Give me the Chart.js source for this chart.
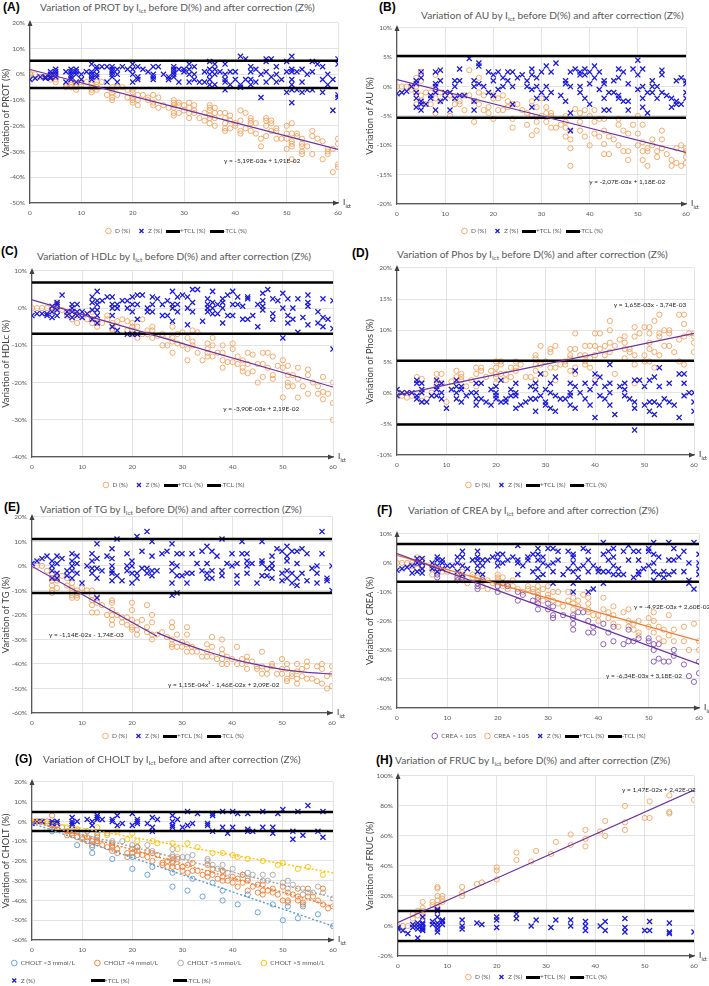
<!DOCTYPE html>
<html>
<head>
<meta charset="utf-8">
<script src="https://cdn.jsdelivr.net/npm/chart.js@4.4.1/dist/chart.umd.min.js"></script>
<style>
  body { margin: 0; width: 709px; height: 986px; background: #fff; position: relative; overflow: hidden; font-family: Lato, sans-serif; }
  .tag { position: absolute; font: bold 12px "Liberation Sans", Arial, sans-serif; color: #000; line-height: 14px; transform: translateY(-50%); white-space: nowrap; }
  .ttl { position: absolute; font-size: 10.2px; color: #595959; line-height: 14px; transform: translateY(-50%); white-space: nowrap; }
  .ttl sub { font-size: 6.5px; vertical-align: -2px; line-height: 0; }
  canvas { position: absolute; }
</style>
</head>
<body>
<script>
// Each row: Ict value, then the variations (%) read at that Ict

// (A) PROT
const protD = [[0,0,0.5],[1,0],[2,-1],[3,-1],[4,-1,-2],[5,-1,-2,-3],[7,-4,-5],[8,-3,-4,-5],[9,-4,-5,-6],[10,-3,-4],[11,-3],[12,-4,-5,-6,-7],[13,-3,-4,-5,-6],[14,-3],[15,-8],[16,-5,-6,-7,-9,-10],[17,-5,-8],[18,-5],[19,-6,-9],[20,-6,-7,-9,-10,-11],[21,-8,-10,-12],[22,-8],[23,-9,-10],[24,-8,-11,-12],[25,-9,-13],[26,-12],[27,-13],[28,-10,-11,-12,-13,-15,-16],[29,-11,-12,-15],[30,-12,-14],[31,-11,-13,-15,-17],[32,-12,-14,-15],[33,-17],[34,-15,-18],[35,-12,-13,-14,-16,-17,-19],[36,-13,-15,-17,-20],[37,-15],[38,-15,-17,-19,-21,-22],[39,-16,-18,-21],[40,-19,-20],[41,-14,-18,-22,-23],[42,-15,-21],[43,-17,-18,-19,-22],[44,-19,-23],[45,-25,-28],[46,-17,-18,-20,-24],[47,-18,-19,-22],[48,-21,-22,-25],[49,-25],[50,-20,-23,-25,-29],[51,-19,-23,-26,-27,-28,-33],[52,-23,-24],[53,-25,-27,-28,-30,-31],[54,-28],[55,-22,-24,-31],[56,-25],[57,-26,-33],[58,-29,-30,-31],[59,-29,-38],[60,-25,-27,-35,-36]];
const protZ = [[0,-2],[1,-1.5],[2,-1],[3,-1,-1.5],[4,-1.5,-1,0,1],[5,-1,0,1,2],[7,-3,1],[8,-2,-1,0,1,2],[9,-3,0,1,2],[10,-2,0],[11,1],[12,-2,-1,0,1,4],[13,-1,0,2,3],[14,3],[15,-3,3],[16,-1,0,1,2,3],[17,-3,0,2],[18,3],[19,2],[20,-3,0,2,4],[21,-2,-1,3],[22,2],[23,1],[24,-2,-1,0,3],[25,3],[26,0],[27,-2,-1],[28,-1,0,1,2,3],[29,-3,2],[30,1,2],[31,-3,0,2,4],[32,-2,0,3],[33,-3],[34,-3,1],[35,-4,-2,0,2,5],[36,-4,0,2,4],[37,1],[38,-6,-3,-2,0,4],[39,-4,1],[40,-2,1],[41,-5,-4,7],[42,-2,6],[43,-4,-2,1,3],[44,-3,2],[45,-9,0],[46,-3,1,5,6],[47,-1,6],[48,-3,0,3],[49,-2],[50,-7,1,5],[51,-11,-6,-4,-2,1,2,7],[52,-6,1],[53,-7,-3,2],[54,-6,0],[55,-6,1,5],[56,4],[57,-7,-2,3],[58,-4,0],[59,-14,-2],[60,-9,-8,4,6]];
const protTcl = [5.3, -5.3];
const protTrend = [[0,1.9],[60,-29.2]];

// (B) AU
const auD = [[0,0],[1,0],[2,0],[3,0,-0.5],[4,1.5,0,-1,-3],[5,2.5,1,-1.5,-2.5],[6,-3,-1],[7,-1,-3],[8,2,-0.5,-2,-4.5],[9,-2.5,-1],[10,-1.5],[11,-5,-1.5],[12,-3,-2],[13,-2.5,-3],[14,-1.5,-4],[15,2.8,-1.5],[16,-6,-2.5],[17,1.5,-1,-3],[18,-1.5,-4],[19,-3.5,-4.5],[20,-5.5,-2,-1.5],[21,-2,-4],[22,-1.5,-4],[23,-2.5,-3.5],[24,-3,-5.5,-7],[25,-3],[26,-4],[27,-4.5,-6.5],[28,-2.5,-5,-8.3],[29,-3.5,-6,-7.5],[30,-2,-5],[31,-3.5,-4.5,-6],[32,-4.5,-5,-7],[33,-7],[34,-6.5],[35,-5,-6,-7,-8.5],[36,-7.5,-9,-10.5,-13.5],[37,-3.8],[38,-4.5,-6,-7.5],[39,-4,-8.5],[40,-5,-10],[41,-4,-6,-8],[42,-5.5,-8.5],[43,-5.5,-7.5,-9.8,-11.5],[44,-8.5,-11.5],[45,-9],[46,-5.5,-6.5,-10],[47,-7.5,-11],[48,-8,-11,-12.5],[49,-6.5],[50,-5,-8,-10],[51,-6.5,-9.5,-11,-12.5],[52,-10.5,-11,-13.5],[53,-9,-10],[54,-11,-12],[55,-7.5,-9,-10.5],[56,-11.5],[57,-12.5,-13.5],[58,-10.5,-13],[59,-10,-13.5],[60,-10.5,-11,-12,-13]];
const auZ = [[0,-1.2],[1,-1],[2,-0.8],[3,0],[4,-3.5,-2,-1,0.5,1],[5,-4,-3,-2.5,1.5,2.5],[6,-3],[7,-2,-1.5],[8,-4,-1,0,0.5,2.5],[9,-2.5,1,2.8],[10,-2,-1],[11,-4,-1],[12,-2,0,1],[13,-1.5,1,3],[14,-1.5],[15,4.8],[16,-4,-2.5,0,1],[17,0.5,3.5,4],[18,0],[19,-1,2.5],[20,-1.5,1,2],[21,-0.5,2.5],[22,0,1.5],[23,1,2.5],[24,-3,0,2.5],[25,1.5],[26,2],[27,0,1],[28,-3.5,-0.5,2,3],[29,-2,0,1.5],[30,-1,2.5],[31,-2,0,3.5],[32,-1,2.5],[33,4],[34,-1.5],[35,-2.5,0.5,1],[36,-7.5,-4.5,0,2.5],[37,3],[38,-1,0,2,2.5],[39,-2,2,3],[40,-3,0.5,2.5],[41,1.5,3.5],[42,-0.5,2.5],[43,-4,-2,0.5,1],[44,-4,-1],[45,-1,1],[46,-2,-1.5,1.5,3],[47,-2.5,2.5],[48,-4,-2.5,0.5],[49,3],[50,-0.5,2,4.5],[51,-3.5,-2,0,3],[52,-4.5,-1],[53,-1,0,1],[54,-2,0],[55,-1,2,2.8],[56,-1.5],[57,-3.5,-2],[58,-3,-2.5,1],[59,-3,1.5],[60,-2,-1,0.5,1]];
const auTcl = [5.2, -5.3];
const auTrend = [[0,1.2],[60,-11.2]];

// (C) HDLc
const hdlD = [[0,0],[1,0],[2,0],[3,0],[4,-1,-0.5],[5,0,0.5,1.5],[6,-0.5],[7,-1,-2],[8,-1.5,-3],[9,-2,-4],[10,-2],[11,-3],[12,-1,-3,-4],[13,-3,-4,-5],[14,-4],[15,-2,-3],[16,-4,-5.5,-6],[17,-3.5,-5],[18,-3],[19,-3.5,-6],[20,-4,-5,-6,-7],[21,-5,-8],[22,-3,-7],[23,-6,-7],[24,-5,-6,-8],[25,-7.5],[26,-7,-10],[27,-7.5,-10],[28,-5,-8,-9,-12],[29,-7,-9.5],[30,-6.5,-10],[31,-8,-11,-14],[32,-6,-9,-10],[33,-6.5,-12],[34,-14],[35,-9.5,-11,-12,-13],[36,-8,-10,-13],[37,-12],[38,-10,-12,-14,-16],[39,-14.5],[40,-9.5,-11,-14.5],[41,-13,-15],[42,-14,-16,-17],[43,-12,-15,-17.5],[44,-12.5,-17],[45,-15,-20],[46,-12,-15,-18.5],[47,-12,-16],[48,-13,-18,-19],[49,-15.5],[50,-14,-16,-24],[51,-15.5,-18,-20,-21],[52,-18,-21],[53,-16,-19,-24],[54,-21],[55,-16.5,-18,-23],[56,-20],[57,-21,-23],[58,-18.5,-22.5,-24.5],[59,-23],[60,-20,-25.5,-30]];
const hdlZ = [[0,-2],[1,-1.5],[2,-1.5],[3,-2,-1.5],[4,-2.5,-1,0.5],[5,-2,-0.5,1,1.5],[6,3.5],[7,-2,-1],[8,-2.5,-1,0,1],[9,-2,-1,1],[10,-2.5,-1],[11,-1.5],[12,-3,-0.5,1.5,3],[13,-4,-2,-0.5,1,2,4.5],[14,2],[15,3],[16,-5,-2,0,1,3],[17,-6,0,1],[18,2],[19,-7,0,2],[20,-7,-1,1,3],[21,-7,-3,1,3.5],[22,3.5],[23,-1,0],[24,-1,1,3],[25,2.5],[26,-2,1],[27,-2,2],[28,-3.5,0,1,4.5],[29,-1,1,3],[30,3.5],[31,-4.5,0,3],[32,-1,1.5,5],[33,5],[34,-3.5],[35,-1,0,1,2.5],[36,-1.5,0,1.5,4.5],[37,-1.5,1],[38,-4,0,1.5,2.5],[39,-2,3.5],[40,-2,1,4.5],[41,1,3],[42,-3,0.5],[43,-3,2.5,3],[44,-2],[45,-5,1],[46,-0.5,0.5,2,4],[47,5],[48,-3,-1.5,2.5],[49,2],[50,-8,0,4],[51,-4,-2,2.5],[52,-3,0],[53,-6.5,2.5],[54,-2.5],[55,-4.5,0.5,1.5,3.5],[57,-4,-1],[58,-5,-2.5,2.5],[59,-3],[60,-11,-5.5,2]];
const hdlTcl = [6.9, -6.9];
const hdlTrend = [[0,2.2],[60,-21.2]];

// (D) Phos
const phosD = [[0,0],[1,-0.5],[2,-0.8],[3,-0.5],[4,2.5],[5,-1.3,2.2],[6,-1],[7,0],[8,1,2,3],[9,1.5,3],[10,-1.5],[11,1.8],[12,2.5,3.5],[13,2,2.5,3],[14,1],[15,2],[16,1,3,4],[17,3.5,4],[18,2.5],[19,3.5],[20,1.5,2.5,3,4,5],[21,3,4.5,5],[22,2,3],[23,2.5,4],[24,3.5,4,5],[25,4.5],[26,2.5],[27,2.5],[28,2,3.5,4.5,5.5,6],[29,4.5,7.5],[30,3,5],[31,4,6.5,7],[32,2,4,7.5],[33,4.5],[34,4.5,5],[35,3.5,5.5,6,7],[36,3,4,7,9.5],[37,6],[38,4.5,5,6,7.5],[39,4,5.5,7.5],[40,2,6,7.5,9.5],[41,7,9.5],[42,6,7.5],[43,6.5,8,10,11.5],[44,3,7.5],[45,8.5],[46,5.5,7,8,9],[47,6.5,7],[48,1.5,4.5,6,9,10.5],[49,9.5],[50,5,6,10.5],[51,5,7,8,9.5,10.5],[52,4,6.5,11.5],[53,6,9,9.5,12.5],[54,7.5,10],[55,7.5,9.5,10],[56,6.5],[57,5,8.5,12.5],[58,4.5,9,11,12.5],[59,9.5],[60,6.5,8,9,9.5]];
const phosZ = [[0,-0.5,0.5],[1,0],[2,0],[3,0],[4,-1,-0.5,1.5,2],[5,-1.5,0,0.5,1.5],[6,-1.5],[7,-0.5],[8,-0.5,0.5,1,2],[9,-1,0,1.5],[10,-2.5],[11,0.5],[12,-1,0,1,2],[13,-1.5,0.5,1],[14,-0.5],[15,0],[16,-2,-1,0,1.5],[17,-1,1.5],[18,-1.5],[19,-2,0.5],[20,-1,-0.5,0,1],[21,-1.5,2],[22,-1.5,-1],[23,-0.5,0.5],[24,-2.5,-0.5,0,1.5],[25,-2],[26,-1.5],[27,-1,1],[28,-3,-1,0.5,1.5],[29,-0.5,3],[30,-2,-1.5,0.5],[31,-2.5,0,1.5],[32,-3,-0.5,2.5],[33,-1],[34,-1],[35,-2,-0.5,0,1.5],[36,-2.5,1,3.5],[37,0],[38,-1,1.5],[39,-2,0.5],[40,-4,1.5,3],[41,-0.5,2.5],[42,-1,1],[43,-2,0,1.5,4.5],[44,-3.5],[45,1],[46,-0.5,0.5,1.5],[47,-1],[48,-6,-2.5,-1.5,2],[49,2],[50,-2,1],[51,-3,-1.5,2],[52,-3.5,-1.5,2.5],[53,-2,1,4],[54,-1],[55,-1.5,1.5],[56,-2],[57,-4,3],[58,-0.5,1.5,3],[59,0],[60,-3,-1.5,0]];
const phosTcl = [5.1, -5.1];
const phosTrend = [[0,-0.4],[60,9.5]];

// (E) TG
const tgD = [[0,0],[1,0],[2,0],[3,-2],[4,-3,-5,-6,-8,-10,-11],[5,-4,-5,-6,-9],[6,-4],[7,-5,-8],[8,-7,-9,-10,-12,-13],[9,-10,-11,-12,-13],[10,-9],[11,-10],[12,-10,-12,-14,-16,-19],[13,-12,-15,-19],[14,-16],[15,-20],[16,-14,-15,-18,-20,-22,-24],[17,-20],[18,-21,-23],[19,-21,-24],[20,-15,-18,-22,-25,-26],[21,-23,-26,-28],[22,-22],[23,-16,-25,-27],[24,-20,-23,-28,-30],[25,-28],[26,-27],[27,-29],[28,-23,-25,-30,-32,-33],[29,-28,-33],[30,-31,-33],[31,-25,-28,-32,-35],[32,-33,-35],[33,-35],[34,-37],[35,-32,-35,-37],[36,-29,-33,-37],[37,-38],[38,-30,-34,-36,-38,-40],[39,-37,-40],[40,-38],[41,-33,-40],[42,-38,-40],[43,-37,-39,-42],[44,-39],[45,-41,-42],[46,-35,-41,-44],[47,-42,-44],[48,-40,-41],[49,-44],[50,-38,-42,-44],[51,-40,-42,-46,-47],[52,-44,-45],[53,-40,-43,-46,-48],[54,-42,-45],[55,-39,-41,-46],[56,-46],[57,-41,-47],[58,-40,-42,-48],[59,-45,-50],[60,-41,-44,-49]];
const tgZ = [[0,1],[1,2],[2,3],[3,4],[4,-5,-2,0,2],[5,-5,-3,1,4],[6,3],[7,-4,-2],[8,-5,-2,0,2,5],[9,-3,1,4],[10,-7],[11,0],[12,-3,-1,2,5],[13,-13,-5,-1,3,9],[14,-2],[15,4],[16,-6,-3,-2,0,3,7],[17,-4,11],[18,-6],[19,-2,0,5],[20,-7,-3,0,2],[21,-5,-3,12],[22,-1,6],[23,-3,-1,14],[24,-4,-2,4,10],[25,-2],[26,5],[27,6],[28,-12,-7,-2,1,9],[29,-11,-4,0,5],[30,-4,5],[31,-7,-3],[32,-3,5],[33,1],[34,-2,6],[35,-5,-3,1,8],[36,-5,-2,6],[37,4],[38,-4,-2,11],[39,1],[40,0,5],[41,-7,-4,1],[42,5,10],[43,-3,0,2,5],[44,1],[45,-7],[46,-4,1,2,10],[47,-4,-1],[48,-5,-1,1,4],[49,7],[50,-6,-3,6],[51,-5,-2,2,4,8],[52,-7,-3,6],[53,-8,-5,1,6],[54,-3,7],[55,-6,5],[56,-1],[57,-7,-3,0],[58,5,14],[59,-6,-5],[60,-10,0]];
const tgTcl = [11, -11];
const tgTrendLin = [[0,-0.2],[25,-28.7]];
const tgTrendPoly = [[25,-27.2],[30,-31.4],[35,-34.9],[40,-37.9],[45,-40.3],[50,-42.2],[55,-43.4],[60,-44.1]];

// (F) CREA
const creaLow = [[4,0],[5,-1],[8,-4,-5],[12,-5,-6],[13,-5],[16,-7,-8,-9],[17,-6],[20,-8,-10],[21,-7],[22,-8],[24,-10,-13],[25,-11],[27,-13],[28,-12,-14,-16],[30,-14,-16],[31,-15,-18,-19],[33,-18],[35,-18,-19,-21,-23],[36,-17],[37,-17],[38,-20,-24],[39,-22,-24],[41,-21,-28],[42,-24],[43,-22,-27],[45,-28],[46,-23,-27],[47,-27],[48,-26],[50,-26,-27],[51,-28,-30,-34],[52,-28,-33],[53,-34],[54,-34],[55,-30,-32],[57,-35],[58,-39],[59,-41],[60,-34,-38]];
const creaHigh = [[0,0],[1,0],[2,0],[3,-1,0],[4,-2,0,2],[5,-1,1],[7,-4,-2],[8,-3,-2],[9,-3],[10,-3],[12,-6,-4],[13,-6,-4,-3],[14,-7],[15,-5,-4],[16,-6,-5],[17,-8,-6],[18,-9,-6],[19,-7],[20,-8,-6,-5,-4],[21,-8,-7,-5],[22,-9,-7],[23,-8,-6],[24,-9],[25,-10],[26,-9,-8],[27,-10,-9],[28,-13,-11,-10,-8],[29,-13,-9],[30,-12,-11,-8],[31,-13,-10],[32,-14,-10],[33,-15],[34,-13,-10],[35,-16,-14,-12],[36,-15,-13],[37,-11],[38,-17,-16,-14,-12],[39,-18],[40,-20,-18],[41,-16,-12],[42,-19,-17],[43,-21,-18,-15],[44,-22],[45,-17],[46,-22,-20,-16],[47,-23,-21],[48,-25,-24,-20],[50,-22,-19],[51,-24,-20,-17],[52,-26,-22],[53,-27,-23],[54,-25,-18],[55,-27,-23],[57,-27,-22],[58,-30],[59,-21],[60,-30,-27]];
const creaZ = [[0,-2.5],[1,-2],[2,-1.5],[3,-3.5,-1],[4,-3,0,1.5],[5,-3.5,-2,0,1.5],[7,-2,0],[8,-3,-1,1,2],[9,-2,0,1],[10,-1],[11,-1],[12,-3,0,2],[13,-4,-1,2,4],[14,-2],[15,1],[16,-3,-1,1,2,4],[17,-4,-1,1],[18,1],[19,2],[20,-1,1,3],[21,0,3],[22,1],[23,2],[24,-4,0,1,6],[25,-1],[26,1,2],[27,-3,3],[28,-5,-2,1,3,5],[29,-4,0,2],[30,-1,5],[31,-7,-3,0,5],[32,1,4],[33,-4],[34,-2,4],[35,-10,-7,-3,0,2,3],[36,-5,-2],[37,-1,5],[38,-10,-3,1,4],[39,-9,-1],[40,-3,-2],[41,-7,-3,3,7],[42,-3,1,4],[43,-4,-1,2,5],[44,-4,-2],[45,-4,4],[46,1,6],[47,-5,4],[48,-4,-3,1,4],[49,-2],[50,-1,4,5],[51,-6,-3,0,3,7],[52,-4,2],[53,-5,-3],[54,-4,1,7],[55,-3,1,5],[56,2],[57,-3,4],[58,-7,-6,0],[59,-9,7],[60,-4,-2,0,3]];
const creaTcl = [6.5, -6.5];
const creaLowTrend = [[0,3.2],[60,-34.9]];
const creaHighTrend = [[0,2.6],[60,-26.9]];

// (G) CHOLT
const cholt3 = [[4,-5],[9,-12],[12,-13,-16],[16,-19],[20,-18,-24],[23,-27],[24,-23],[28,-26,-33],[31,-35],[32,-29],[34,-38],[36,-31],[38,-35,-40],[41,-42],[43,-37],[45,-46],[48,-42],[50,-50],[51,-43],[53,-49],[54,-43],[57,-47],[60,-53]];
const cholt4 = [[0,0,-1],[1,0],[2,0],[3,0],[4,3,-2,-4],[5,-2,-4],[7,-5,-7],[8,-6,-7],[9,-5,-8],[10,-9],[11,-8,-10],[12,-10,-12],[13,-8,-10,-11],[14,-12],[15,-13],[16,-11,-13,-15],[17,-14,-16],[19,-16,-18],[20,-14,-16],[21,-13,-17],[22,-17],[23,-15,-18],[24,-16,-20],[25,-17],[26,-21,-22],[27,-20,-23],[28,-18,-21,-23],[29,-19,-23],[30,-23,-25],[31,-22,-26],[32,-21,-25],[33,-25],[34,-27],[35,-22,-26,-28],[36,-24,-27],[37,-29],[38,-25,-28,-30],[39,-30],[40,-28,-31],[41,-29,-33],[42,-27,-31],[43,-30,-35],[44,-33],[45,-32,-36],[46,-32,-35,-37],[47,-35],[48,-34,-36],[49,-37],[50,-33,-40],[51,-36,-40,-41],[52,-37],[53,-34,-38,-40],[54,-41,-42],[55,-34,-38],[56,-38],[57,-40],[58,-34,-42],[59,-44],[60,-43]];
const cholt5 = [[2,0],[4,-1],[6,-3],[8,-5],[10,-8],[11,-5],[12,-9],[13,-7,-10],[15,-6],[16,-10,-12],[18,-10],[20,-12],[21,-13,-15],[23,-12],[24,-15],[28,-14,-17,-20],[29,-18],[30,-18],[31,-18],[32,-17],[35,-19,-20],[36,-22],[37,-24],[38,-22,-25],[39,-26],[40,-24],[42,-27],[43,-26,-29],[44,-27],[46,-27,-30],[47,-30],[48,-27],[50,-31],[51,-30,-34],[52,-32],[54,-34,-37],[55,-36],[56,-36],[57,-33],[58,-36],[60,-39]];
const cholt6 = [[0,0],[1,0],[3,-1],[5,-2],[7,-3],[9,-4],[11,-5],[13,-3,-6],[15,-7],[17,-5],[19,-9],[20,-6],[21,-10],[24,-10],[25,-11],[28,-11],[29,-14],[31,-11],[33,-13],[36,-16],[38,-16],[40,-17],[41,-18],[43,-19],[46,-20],[49,-22],[50,-21],[53,-24],[55,-23],[58,-27]];
const cholZ = [[0,-1],[1,0],[2,0],[4,0,-1],[5,0,-1],[8,-2,-1,0,2],[9,0],[11,1],[12,-2,0],[13,1,2,3],[14,1],[16,0,1],[17,-2,3],[18,-1],[20,-2,4],[21,-1,0,1],[23,-1],[24,-5,-3,2],[25,1],[28,-3,-2,0,3],[29,1],[30,-3],[31,-2,5],[32,-1],[33,4],[35,-2,-1],[36,-5,3,4],[38,-3,5],[39,-6],[40,-3,5],[41,4],[43,-5,-4,4],[44,-5],[46,-3,5],[48,-6,-3],[49,4],[50,6],[52,-9,-5],[53,5],[54,-7],[55,8],[57,-5],[58,-8,5]];
const cholTcl = [4.8, -4.8];
const cholt3Trend = [[0,-1],[60,-53]];
const cholt4Trend = [[0,0],[60,-43]];
const cholt5Trend = [[0,0],[60,-38.5]];
const cholt6Trend = [[0,1],[60,-26]];

// (H) FRUC
const frucD = [[0,0],[1,0],[2,0],[3,5,8],[4,7,10],[5,6,8,10,12,16],[7,14,16],[8,12,14,17,20,25,26],[9,16,18,20],[13,20,22,26],[16,28],[17,29],[20,31,37,39],[24,44,49],[27,43],[28,50],[31,48],[32,56],[35,54,61],[38,53,58,64],[41,63],[42,60,70],[46,64,69,80],[50,72],[51,72,83],[55,75,76,87],[60,84]];
const frucZ = [[0,-2,-1],[1,-3],[2,-5],[3,-1,1],[4,-8,-2,0,2],[5,-3,-2,-1,1,2,6],[7,1,3],[8,-4,-2,0,2,6,10,11],[9,1,3,4],[13,-2,0,4],[16,2],[17,1],[20,-1,4,6],[24,5,8],[27,0],[28,4],[31,-1],[32,4],[35,0,4],[38,-3,0,3],[41,0],[42,-3,3],[46,-4,-1,5],[50,-3],[51,-3,3],[55,-5,-4,2],[60,-4]];
const frucTcl = [10, -10];
const frucTrend = [[0,2.4],[60,90.6]];

const ORANGE = '#F2A35E';
const BLUE = '#1a1ad8';
const PURPLE = '#7030A0';

const expand = rows => rows.flatMap(([x, ...ys]) => ys.map(y => ({ x, y })));
const pairs = arr => arr.map(([x, y]) => ({ x, y }));

// legend icon for the thick TCL lines
const lineIcon = document.createElement('canvas');
lineIcon.width = 14; lineIcon.height = 3;
lineIcon.getContext('2d').fillRect(0, 0, 14, 3);

function circles(label, rows, color) {
  return { label, data: expand(rows), showLine: false, pointStyle: 'circle', pointRadius: 2.6,
    borderWidth: 0.9, borderColor: color, backgroundColor: 'transparent', order: 3 };
}
function crosses(label, rows) {
  return { label, data: expand(rows), showLine: false, pointStyle: 'crossRot', pointRadius: 3.6,
    borderWidth: 1.3, borderColor: BLUE, backgroundColor: BLUE, order: 2 };
}
function tclLine(label, v) {
  return { label, data: [{ x: 0, y: v }, { x: 60, y: v }], showLine: true, borderColor: '#000',
    backgroundColor: '#000', borderWidth: 2.5, pointRadius: 0, pointStyle: lineIcon, order: 1 };
}
function trendLine(arr, color, dash) {
  return { label: 'trend', noLegend: true, data: pairs(arr), showLine: true, borderColor: color,
    borderWidth: dash ? 1.4 : 1.2, borderDash: dash || [], pointRadius: 0, order: 0,
    cubicInterpolationMode: 'monotone' };
}
function stdSets(d, z, tcl) {
  return [circles('D (%)', d, ORANGE), crosses('Z (%)', z),
    tclLine('+TCL (%)', tcl[0]), tclLine('-TCL (%)', tcl[1])];
}

const sub = 'I<sub>ict</sub>';
const panels = [
  { tag: '(A)', tagPos: [3, 7], title: `Variation of PROT by ${sub} before D(%) and after correction (Z%)`, titlePos: [40, 7],
    plot: [30, 22, 338, 203], yW: 30, legendY: 231, ytitle: 'Variation of PROT (%)', ymin: -50, ymax: 20, ystep: 10,
    datasets: [...stdSets(protD, protZ, protTcl), trendLine(protTrend, PURPLE)],
    eq: [{ text: 'y = -5,19E-03x + 1,91E-02', x: 37.8, y: -33.7 }] },
  { tag: '(B)', tagPos: [379, 7], title: `Variation of AU by ${sub} before D(%) and after correction (Z%)`, titlePos: [421, 15],
    plot: [397, 27, 686, 204], yW: 33, legendY: 231, ytitle: 'Variation of AU (%)', ymin: -20, ymax: 10, ystep: 5,
    datasets: [...stdSets(auD, auZ, auTcl), trendLine(auTrend, PURPLE)],
    eq: [{ text: 'y = -2,07E-03x + 1,18E-02', x: 39.9, y: -16.3 }] },
  { tag: '(C)', tagPos: [1, 251], title: `Variation of HDLc by ${sub} before D(%) and after correction (Z%)`, titlePos: [37, 256],
    plot: [32, 270, 333, 457], yW: 32, legendY: 485, ytitle: 'Variation of HDLc (%)', ymin: -40, ymax: 10, ystep: 10,
    datasets: [...stdSets(hdlD, hdlZ, hdlTcl), trendLine(hdlTrend, PURPLE)],
    eq: [{ text: 'y = -3,90E-03x + 2,19E-02', x: 38.1, y: -27.2 }] },
  { tag: '(D)', tagPos: [352, 253], title: `Variation of Phos by ${sub} before D(%) and after correction (Z%)`, titlePos: [397, 254],
    plot: [397, 267, 694, 455], yW: 33, legendY: 485, ytitle: 'Variation of Phos (%)', ymin: -10, ymax: 20, ystep: 5,
    datasets: [...stdSets(phosD, phosZ, phosTcl), trendLine(phosTrend, PURPLE)],
    eq: [{ text: 'y = 1,65E-03x - 3,74E-03', x: 43.8, y: 14.1 }] },
  { tag: '(E)', tagPos: [4, 507], title: `Variation of TG by ${sub} before D(%) and after correction (Z%)`, titlePos: [40, 509],
    plot: [32, 516, 332, 713], yW: 32, legendY: 736, ytitle: 'Variation of TG (%)', ymin: -60, ymax: 20, ystep: 10,
    datasets: [...stdSets(tgD, tgZ, tgTcl), trendLine(tgTrendLin, PURPLE), trendLine(tgTrendPoly, PURPLE)],
    eq: [{ text: 'y = -1,14E-02x - 1,74E-03', x: 3.4, y: -28.3 },
         { text: 'y = 1,15E-04x² - 1,46E-02x + 2,09E-02', x: 27.2, y: -48.6 }] },
  { tag: '(F)', tagPos: [377, 510], title: `Variation of CREA by ${sub} before and after correction (Z%)`, titlePos: [408, 510],
    plot: [397, 533, 699, 708], yW: 33, legendY: 736, ytitle: 'Variation of CREA (%)', ymin: -50, ymax: 10, ystep: 10,
    datasets: [circles('CREA < 105', creaLow, '#8250b8'), circles('CREA > 105', creaHigh, ORANGE), crosses('Z (%)', creaZ),
      tclLine('+TCL (%)', creaTcl[0]), tclLine('-TCL (%)', creaTcl[1]),
      trendLine(creaLowTrend, PURPLE), trendLine(creaHighTrend, '#ED7D31')],
    eq: [{ text: 'y = -4,92E-03x + 2,60E-02', x: 47.1, y: -15.0 },
         { text: 'y = -6,34E-03x + 3,18E-02', x: 41.5, y: -39.0 }] },
  { tag: '(G)', tagPos: [15, 759], title: `Variation of CHOLT by ${sub} before and after correction (Z%)`, titlePos: [43, 759],
    plot: [32, 781, 333, 940], yW: 32, legendY: 963, legendRows: 2, legendPad: 11, legendColWidth: 73,
    ytitle: 'Variation of CHOLT (%)', ymin: -60, ymax: 20, ystep: 10,
    datasets: [circles('CHOLT <3 mmol/L', cholt3, '#5B9BD5'), circles('CHOLT <4 mmol/L', cholt4, '#ED7D31'),
      circles('CHOLT <5 mmol/L', cholt5, '#A5A5A5'), circles('CHOLT >5 mmol/L', cholt6, '#FFC000'),
      crosses('Z (%)', cholZ), tclLine('+TCL (%)', cholTcl[0]), tclLine('-TCL (%)', cholTcl[1]),
      trendLine(cholt3Trend, '#5B9BD5', [2, 2]), trendLine(cholt4Trend, '#ED7D31', [2, 2]),
      trendLine(cholt5Trend, '#A5A5A5', [2, 2]), trendLine(cholt6Trend, '#FFC000', [2, 2])],
    eq: [] },
  { tag: '(H)', tagPos: [376, 760], title: `Variation of FRUC by ${sub} before D(%) and after correction (Z%)`, titlePos: [395, 760],
    plot: [398, 775, 694, 956], yW: 34, legendY: 977, ytitle: 'Variation of FRUC (%)', ymin: -20, ymax: 100, ystep: 20,
    datasets: [...stdSets(frucD, frucZ, frucTcl), trendLine(frucTrend, PURPLE)],
    eq: [{ text: 'y = 1,47E-02x + 2,42E-02', x: 45.4, y: 90.7 }] }
];

// arrows on the axes, the Ict axis label and the trend equations;
// also pins the legend at its place under the x-axis labels
const axisDeco = {
  id: 'axisDeco',
  beforeDraw(chart, args, opts) {
    const lg = chart.legend;
    if (lg && opts.legendTop != null) {
      const h = lg.bottom - lg.top;
      lg.top = opts.legendTop;
      lg.bottom = lg.top + h;
    }
  },
  afterDraw(chart, args, opts) {
    const { ctx, chartArea: a, scales: { x, y } } = chart;
    ctx.save();
    ctx.fillStyle = '#404040';
    ctx.beginPath();
    ctx.moveTo(a.left, a.top - 3);
    ctx.lineTo(a.left - 2.5, a.top + 3);
    ctx.lineTo(a.left + 2.5, a.top + 3);
    ctx.closePath();
    ctx.fill();
    ctx.beginPath();
    ctx.moveTo(a.right + 1, a.bottom);
    ctx.lineTo(a.right - 5, a.bottom - 2.5);
    ctx.lineTo(a.right - 5, a.bottom + 2.5);
    ctx.closePath();
    ctx.fill();
    ctx.fillStyle = '#262626';
    ctx.textBaseline = 'alphabetic';
    ctx.font = '8px Lato, sans-serif';
    ctx.fillText('I', a.right + 5, a.bottom + 2);
    ctx.font = '5px Lato, sans-serif';
    ctx.fillText('ict', a.right + 7.5, a.bottom + 5);
    ctx.font = '6.5px Lato, sans-serif';
    ctx.textBaseline = 'middle';
    (opts.eq || []).forEach(e => ctx.fillText(e.text, x.getPixelForValue(e.x), y.getPixelForValue(e.y)));
    ctx.restore();
  }
};

Chart.defaults.font.family = 'Lato, sans-serif';

panels.forEach(p => {
  const [l, t, r, b] = p.plot;
  const padTop = 8, padRight = 2, rightGap = 14, xH = 16;
  const rows = p.legendRows || 1;
  const legPad = p.legendPad || 8;
  const legendH = rows * (6.5 + legPad) + 10;
  const cL = l - p.yW, cT = t - padTop;
  const W = p.yW + (r - l) + rightGap + padRight;
  const H = (b - cT) + xH + legendH;
  const legendTop = p.legendY - legPad - 3.25 - cT;

  const tag = document.createElement('div');
  tag.className = 'tag'; tag.textContent = p.tag;
  tag.style.left = p.tagPos[0] + 'px'; tag.style.top = p.tagPos[1] + 'px';
  document.body.appendChild(tag);
  const ttl = document.createElement('div');
  ttl.className = 'ttl'; ttl.innerHTML = p.title;
  ttl.style.left = p.titlePos[0] + 'px'; ttl.style.top = p.titlePos[1] + 'px';
  document.body.appendChild(ttl);

  const cv = document.createElement('canvas');
  cv.width = W; cv.height = Math.ceil(H);
  cv.style.left = cL + 'px'; cv.style.top = cT + 'px';
  document.body.appendChild(cv);

  const grid = { color: '#dcdcdc', lineWidth: 0.8, drawTicks: false };
  const border = { color: '#595959', width: 1.2 };
  const tickFont = { size: 6.5 };

  new Chart(cv, {
    type: 'scatter',
    data: { datasets: p.datasets },
    options: {
      responsive: false,
      animation: false,
      events: [],
      layout: { padding: { top: padTop, right: padRight, left: 0, bottom: Math.ceil(H) - H } },
      scales: {
        x: {
          type: 'linear', min: 0, max: 60,
          ticks: { stepSize: 10, padding: 6, color: '#595959', font: tickFont },
          grid, border,
          afterFit: s => { s.height = xH; }
        },
        y: {
          type: 'linear', min: p.ymin, max: p.ymax,
          ticks: { stepSize: p.ystep, padding: 5, color: '#595959', font: tickFont, callback: v => v + '%' },
          grid, border,
          title: { display: true, text: p.ytitle, color: '#404040', font: { size: 9.3 }, padding: 0 },
          afterFit: s => { s.width = p.yW; }
        },
        // empty strip on the right that holds the Ict label
        gap: {
          type: 'linear', position: 'right', display: true,
          ticks: { display: false }, grid: { display: false }, border: { display: false },
          afterFit: s => { s.width = rightGap; }
        }
      },
      plugins: {
        tooltip: { enabled: false },
        legend: {
          position: 'bottom',
          align: p.legendColWidth ? 'start' : 'center',
          labels: {
            usePointStyle: true,
            boxWidth: 7,
            boxHeight: 4,
            padding: legPad,
            color: '#595959',
            font: { size: 6.5 },
            filter: (item, data) => !data.datasets[item.datasetIndex].noLegend,
            sort: (a, b) => a.datasetIndex - b.datasetIndex,
            generateLabels: chart => {
              const items = Chart.defaults.plugins.legend.labels.generateLabels(chart);
              if (!p.legendColWidth) return items;
              const ctx = chart.ctx;
              ctx.save();
              ctx.font = '6.5px Lato, sans-serif';
              items.forEach(it => {
                while (ctx.measureText(it.text + ' ').width + 9.75 <= p.legendColWidth) it.text += ' ';
              });
              ctx.restore();
              return items;
            }
          }
        },
        axisDeco: { eq: p.eq, legendTop }
      }
    },
    plugins: [axisDeco]
  });
});
</script>
</body>
</html>
